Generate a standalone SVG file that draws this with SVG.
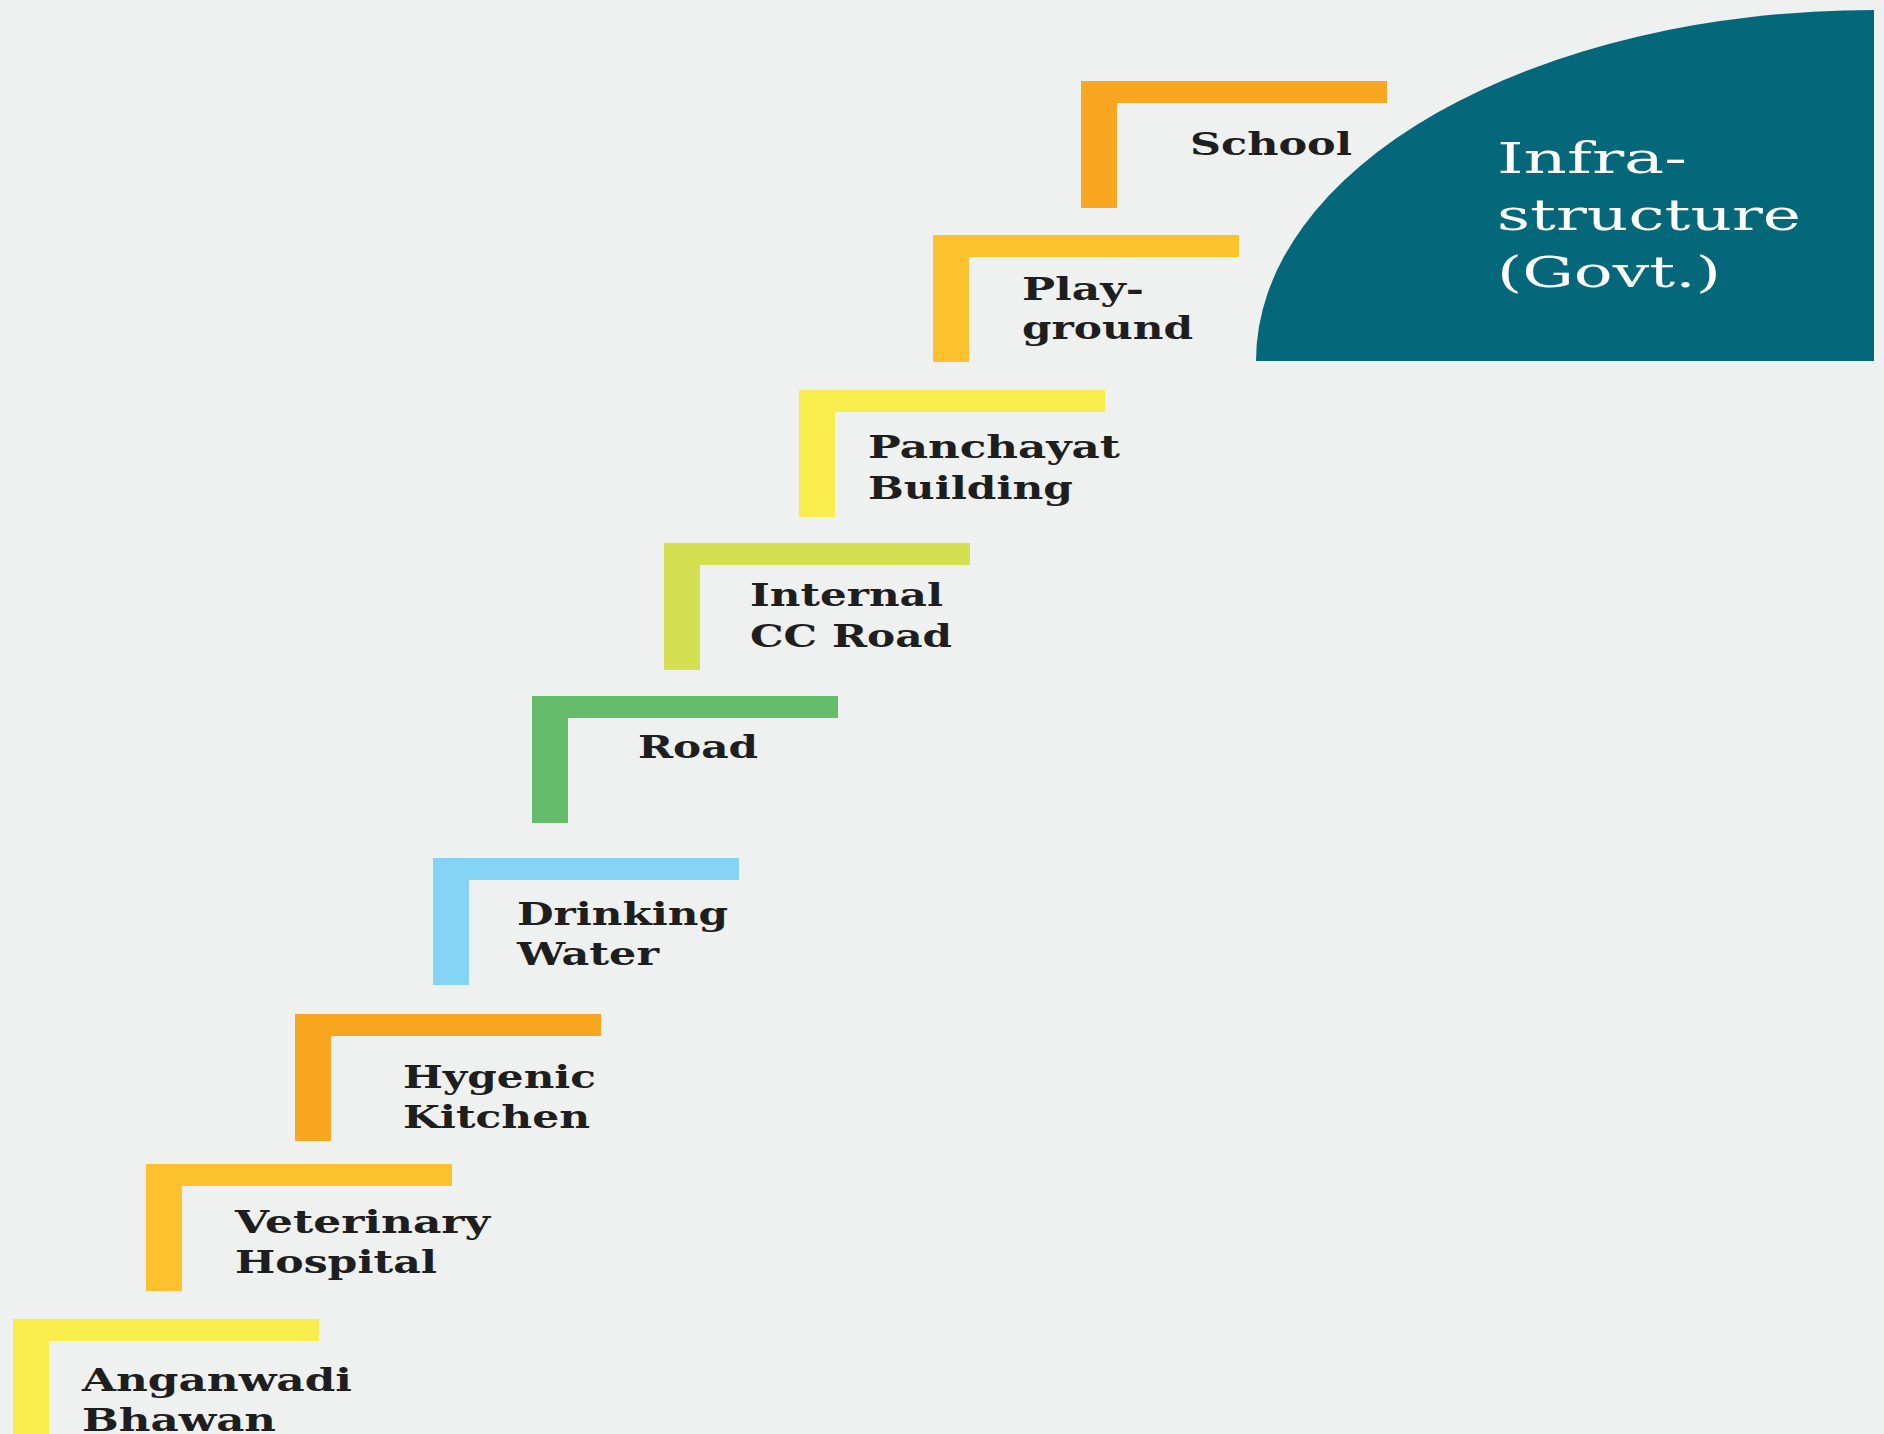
<svg xmlns="http://www.w3.org/2000/svg" width="1884" height="1434" viewBox="0 0 1884 1434">
<style>
.lbl{font-family:"DejaVu Serif","Liberation Serif",serif;font-weight:bold;font-size:31px;fill:#1e1e1e}
.ttl{font-family:"DejaVu Serif","Liberation Serif",serif;font-size:43px;fill:#ffffff}
.orange{fill:#F8A51F}
.gold{fill:#FCC12C}
.yellow{fill:#F9EC4D}
.lime{fill:#D4E052}
.green{fill:#65BC6A}
.blue{fill:#85D3F5}
</style>
<defs>
<path id="step" d="M0,0 h306 v22 h-270 v105 h-36 z"/>
</defs>
<rect x="0" y="0" width="1884" height="1434" fill="#EFF0F0"/>
<g id="infrastructure-govt">
<path d="M1256,361 L1874,361 L1874,10 A618,351 0 0 0 1256,361 Z" fill="#04687A"/>
<text class="ttl" x="1497" y="173" textLength="190" lengthAdjust="spacingAndGlyphs">Infra-</text>
<text class="ttl" x="1497" y="230" textLength="304" lengthAdjust="spacingAndGlyphs">structure</text>
<text class="ttl" x="1497" y="287" textLength="224" lengthAdjust="spacingAndGlyphs">(Govt.)</text>
</g>
<g id="school">
<use href="#step" x="1081" y="81" class="orange"/>
<text class="lbl" x="1190" y="155" textLength="162" lengthAdjust="spacingAndGlyphs">School</text>
</g>
<g id="playground">
<use href="#step" x="933" y="235" class="gold"/>
<text class="lbl" x="1022" y="300" textLength="122" lengthAdjust="spacingAndGlyphs">Play-</text>
<text class="lbl" x="1022" y="339" textLength="171" lengthAdjust="spacingAndGlyphs">ground</text>
</g>
<g id="panchayat-building">
<use href="#step" x="799" y="390" class="yellow"/>
<text class="lbl" x="868" y="458" textLength="252" lengthAdjust="spacingAndGlyphs">Panchayat</text>
<text class="lbl" x="868" y="499" textLength="205" lengthAdjust="spacingAndGlyphs">Building</text>
</g>
<g id="internal-cc-road">
<use href="#step" x="664" y="543" class="lime"/>
<text class="lbl" x="750" y="606" textLength="193" lengthAdjust="spacingAndGlyphs">Internal</text>
<text class="lbl" x="750" y="647" textLength="202" lengthAdjust="spacingAndGlyphs">CC Road</text>
</g>
<g id="road">
<use href="#step" x="532" y="696" class="green"/>
<text class="lbl" x="638" y="758" textLength="120" lengthAdjust="spacingAndGlyphs">Road</text>
</g>
<g id="drinking-water">
<use href="#step" x="433" y="858" class="blue"/>
<text class="lbl" x="517" y="925" textLength="211" lengthAdjust="spacingAndGlyphs">Drinking</text>
<text class="lbl" x="517" y="965" textLength="142" lengthAdjust="spacingAndGlyphs">Water</text>
</g>
<g id="hygenic-kitchen">
<use href="#step" x="295" y="1014" class="orange"/>
<text class="lbl" x="403" y="1088" textLength="193" lengthAdjust="spacingAndGlyphs">Hygenic</text>
<text class="lbl" x="403" y="1128" textLength="187" lengthAdjust="spacingAndGlyphs">Kitchen</text>
</g>
<g id="veterinary-hospital">
<use href="#step" x="146" y="1164" class="gold"/>
<text class="lbl" x="235" y="1233" textLength="255" lengthAdjust="spacingAndGlyphs">Veterinary</text>
<text class="lbl" x="235" y="1273" textLength="202" lengthAdjust="spacingAndGlyphs">Hospital</text>
</g>
<g id="anganwadi-bhawan">
<use href="#step" x="13" y="1319" class="yellow"/>
<text class="lbl" x="82" y="1391" textLength="270" lengthAdjust="spacingAndGlyphs">Anganwadi</text>
<text class="lbl" x="82" y="1431" textLength="194" lengthAdjust="spacingAndGlyphs">Bhawan</text>
</g>
</svg>
